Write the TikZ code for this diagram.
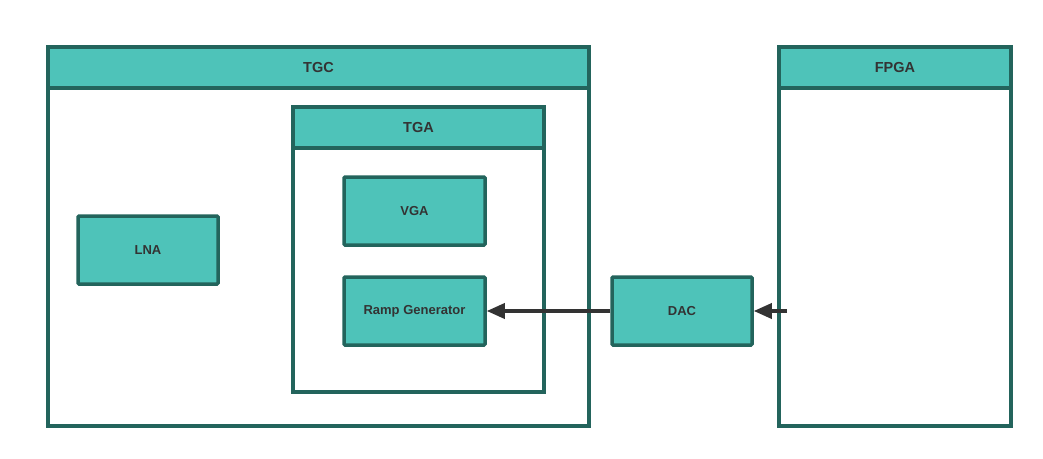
\documentclass[tikz,border=0pt]{standalone}
\usepackage{fontspec}
\setmainfont{Liberation Sans}
\usetikzlibrary{arrows.meta}
\definecolor{tealfill}{HTML}{4EC3B9}
\definecolor{tealline}{HTML}{23645C}
\definecolor{txt}{HTML}{333333}
\begin{document}
\begin{tikzpicture}[x=1pt,y=-1pt,
  block/.style={draw=tealline,fill=tealfill,line width=3.5pt,rounded corners=1pt,inner sep=0pt,
    text=txt,font=\fontsize{13}{15}\selectfont\bfseries},
  frame/.style={draw=tealline,fill=white,line width=3.5pt,inner sep=0pt},
  header/.style={draw=tealline,fill=tealfill,line width=3.5pt,inner sep=0pt,
    text=txt,font=\fontsize{14.5}{16}\selectfont\bfseries},
  conn/.style={draw=txt,line width=3.5pt,-{Triangle[length=18pt,width=15pt]}}]
\useasboundingbox (0,0) rectangle (1043,458);
% TGC
\node[frame,minimum width=541pt,minimum height=379pt] (tgcbody) at (318.5,236.5) {};
\node[header,minimum width=541pt,minimum height=41pt] (tgc) at (318.5,67.5) {TGC};
% TGA
\node[frame,minimum width=251pt,minimum height=285pt] (tgabody) at (418.5,249.5) {};
\node[header,minimum width=251pt,minimum height=41pt] (tga) at (418.5,127.5) {TGA};
% FPGA
\node[frame,minimum width=232pt,minimum height=379pt] (fpgabody) at (895,236.5) {};
\node[header,minimum width=232pt,minimum height=41pt] (fpga) at (895,67.5) {FPGA};
% blocks
\node[block,minimum width=140pt,minimum height=68pt] (lna) at (148,250) {LNA};
\node[block,minimum width=141pt,minimum height=68pt] (vga) at (414.5,211) {VGA};
\node[block,minimum width=141pt,minimum height=68pt] (ramp) at (414.5,311) {Ramp Generator};
\node[block,minimum width=140pt,minimum height=68pt] (dac) at (682,311) {DAC};
\coordinate (fpgaout) at (787,311);
% connectors
\draw[conn] (dac.west) -- (ramp.east);
\draw[conn] (fpgaout) -- (dac.east);
\end{tikzpicture}
\end{document}
